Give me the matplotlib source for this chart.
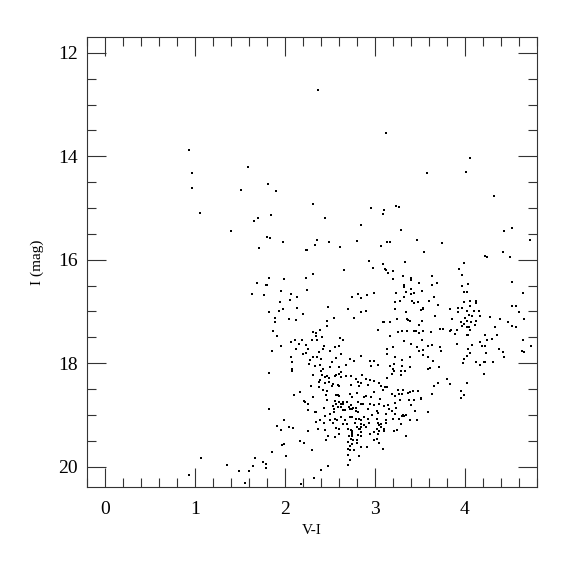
import numpy as np
import matplotlib.pyplot as plt
from matplotlib.ticker import MultipleLocator

# (V-I, I) pairs, grouped by region of the plot
upper_left = [
    (0.93, 13.88), (0.96, 14.32), (0.97, 14.61), (1.05, 15.09), (1.40, 15.44),
    (1.59, 14.21), (1.51, 14.66), (1.81, 14.53), (1.90, 14.67), (1.84, 15.13),
    (1.70, 15.20), (1.66, 15.25), (1.80, 15.56), (1.83, 15.58), (1.71, 15.77),
    (1.98, 15.66), (2.37, 12.71), (2.31, 14.92), (2.44, 15.19), (2.36, 15.62),
    (2.33, 15.72), (2.49, 15.65), (2.61, 15.76), (2.80, 15.64), (2.23, 15.82),
    (2.24, 15.82),
]
upper_right = [
    (3.12, 13.55), (4.06, 14.03), (3.58, 14.33), (4.01, 14.30), (4.33, 14.76),
    (2.96, 15.00), (3.10, 15.04), (3.09, 15.11), (3.23, 14.96), (3.27, 14.98),
    (2.85, 15.33), (3.29, 15.42), (3.47, 15.61), (3.75, 15.67), (3.13, 15.65),
    (3.17, 15.66), (3.07, 15.74), (3.55, 15.86), (4.44, 15.44), (4.53, 15.39),
    (4.73, 15.62), (4.42, 15.86),
]
mid_1 = [
    (1.82, 16.35), (1.69, 16.45), (1.79, 16.48), (1.80, 16.48), (1.63, 16.67),
    (1.77, 16.69), (1.82, 17.02),
]
mid_2 = [
    (2.31, 16.27), (2.23, 16.36), (1.99, 16.38), (2.66, 16.20), (1.95, 16.60),
    (2.07, 16.66), (2.24, 16.58), (2.13, 16.72), (2.06, 16.78), (1.94, 16.81),
    (1.98, 16.95), (2.13, 16.93), (1.93, 16.99), (2.20, 17.05), (2.48, 16.91),
    (1.89, 17.13), (1.89, 17.21), (2.04, 17.15), (2.12, 17.16), (2.47, 17.18),
    (2.54, 17.13), (2.47, 17.29), (1.87, 17.37), (1.91, 17.47), (2.31, 17.40),
    (2.35, 17.42), (2.39, 17.36), (2.35, 17.48), (2.41, 17.49), (1.86, 17.76),
    (1.95, 17.66), (2.07, 17.60), (2.11, 17.56), (2.19, 17.56), (2.15, 17.62),
    (2.23, 17.64), (2.30, 17.56), (2.36, 17.55), (2.12, 17.72), (2.26, 17.73),
    (2.23, 17.80), (2.20, 17.82), (2.43, 17.66), (2.42, 17.73), (2.31, 17.88),
    (2.38, 17.79), (2.36, 17.89), (2.40, 17.92), (2.28, 17.94), (2.27, 18.02),
    (2.33, 18.06), (2.39, 18.04), (2.42, 18.11), (2.07, 17.88), (2.08, 17.98),
    (2.08, 18.11), (2.50, 17.77), (2.56, 17.69), (2.60, 17.67), (2.61, 17.52),
    (2.64, 17.56), (2.62, 17.83), (2.57, 17.90), (2.50, 18.07), (2.52, 17.97),
    (2.72, 17.91), (2.77, 17.95), (2.68, 18.03), (2.60, 18.08), (2.75, 16.72),
    (2.81, 16.66), (2.70, 16.96), (2.77, 17.13),
]
mid_3 = [
    (2.93, 16.02), (2.98, 16.16), (3.09, 16.09), (3.11, 16.18), (3.12, 16.19),
    (3.20, 16.22), (3.15, 16.26), (3.34, 16.05), (3.64, 16.31), (3.20, 16.38),
    (3.31, 16.31), (3.40, 16.35), (3.40, 16.39), (3.49, 16.45), (3.32, 16.48),
    (3.32, 16.52), (3.40, 16.56), (3.35, 16.62), (3.24, 16.64), (3.40, 16.66),
    (3.43, 16.64), (3.52, 16.60), (3.63, 16.49), (3.69, 16.45), (2.99, 16.64),
    (2.91, 16.69), (2.84, 16.74), (3.32, 16.73), (3.66, 16.73), (3.28, 16.80),
    (3.22, 16.82), (3.41, 16.79), (3.44, 16.84), (3.48, 16.82), (3.60, 16.79),
    (3.70, 16.87), (3.53, 16.94), (3.54, 16.95), (3.51, 16.97), (3.22, 16.95),
    (2.84, 17.02), (2.90, 17.00), (3.35, 17.01), (3.67, 17.09), (3.25, 17.14),
    (3.36, 17.14), (3.37, 17.17), (3.39, 17.18), (3.52, 17.18), (3.09, 17.21),
    (3.10, 17.20), (3.17, 17.20), (3.49, 17.27), (3.72, 17.33), (3.76, 17.34),
    (3.62, 17.39), (3.03, 17.36), (3.26, 17.40), (3.30, 17.38), (3.36, 17.38),
    (3.44, 17.37), (3.46, 17.37), (3.49, 17.41), (3.53, 17.37), (3.17, 17.47),
    (3.52, 17.56), (3.32, 17.58), (3.40, 17.63), (3.59, 17.67), (3.64, 17.65),
    (3.72, 17.68), (3.20, 17.69), (3.14, 17.73), (3.47, 17.69), (3.49, 17.76),
    (3.53, 17.74), (3.73, 17.76), (3.14, 17.82), (3.54, 17.84), (3.59, 17.89),
    (2.85, 17.86), (2.95, 17.96), (2.99, 17.95), (3.22, 17.88), (3.30, 17.93),
    (3.39, 17.89), (3.65, 17.95), (2.96, 18.06), (3.03, 18.04), (3.17, 18.05),
    (3.21, 18.02), (3.30, 18.05), (3.39, 18.07), (3.20, 18.11), (3.59, 18.11),
    (3.61, 18.10), (3.71, 18.08),
]
mid_4 = [
    (4.22, 15.92), (4.25, 15.95), (4.50, 15.95), (3.99, 16.07), (3.93, 16.18),
    (3.97, 16.30), (3.97, 16.51), (4.04, 16.47), (4.52, 16.44), (3.99, 16.63),
    (4.03, 16.62), (4.65, 16.64), (3.99, 16.82), (4.06, 16.80), (4.12, 16.79),
    (4.12, 16.84), (4.06, 16.90), (3.84, 16.95), (3.92, 16.93), (3.92, 17.02),
    (3.97, 16.93), (4.03, 17.00), (4.10, 17.00), (4.16, 17.00), (4.05, 17.06),
    (4.08, 17.08), (4.17, 17.09), (4.52, 16.89), (4.57, 16.89), (4.60, 17.01),
    (4.28, 17.10), (4.39, 17.14), (4.66, 17.14), (3.86, 17.15), (4.00, 17.13),
    (4.03, 17.18), (3.96, 17.20), (3.99, 17.24), (4.07, 17.20), (4.12, 17.18),
    (4.48, 17.21), (3.97, 17.29), (4.02, 17.30), (4.05, 17.30), (4.06, 17.35),
    (3.85, 17.36), (3.84, 17.38), (3.91, 17.36), (3.89, 17.44), (4.02, 17.45),
    (4.04, 17.45), (4.11, 17.27), (4.34, 17.31), (4.52, 17.29), (4.57, 17.30),
    (4.22, 17.45), (4.36, 17.45), (4.30, 17.53), (4.25, 17.55), (4.17, 17.59),
    (4.65, 17.55), (4.74, 17.67), (3.91, 17.62), (4.08, 17.65), (4.04, 17.72),
    (4.19, 17.67), (4.23, 17.67), (4.38, 17.72), (4.43, 17.78), (4.64, 17.76),
    (4.66, 17.78), (4.06, 17.80), (4.24, 17.80), (4.44, 17.89), (4.02, 17.87),
    (3.99, 17.92), (4.13, 17.97), (4.21, 17.98), (4.23, 17.98), (4.31, 17.97),
    (4.17, 18.04), (3.98, 18.00),
]
low_1 = [
    (1.82, 18.19), (1.82, 18.89), (1.06, 19.84), (0.93, 20.16), (1.35, 19.97),
    (1.49, 20.09), (1.56, 20.32), (1.60, 20.08), (1.64, 19.99), (1.67, 19.83),
    (1.75, 19.91), (1.79, 19.95), (1.79, 20.02),
]
low_2 = [
    (2.08, 18.15), (2.31, 18.23), (2.40, 18.15), (2.41, 18.23), (2.39, 18.32),
    (2.45, 18.27), (2.47, 18.25), (2.49, 18.29), (2.56, 18.25), (2.57, 18.23),
    (2.60, 18.20), (2.62, 18.17), (2.62, 18.26), (2.68, 18.25), (2.73, 18.25),
    (2.79, 18.30), (2.81, 18.36), (2.38, 18.37), (2.29, 18.44), (2.45, 18.39),
    (2.49, 18.37), (2.53, 18.40), (2.52, 18.44), (2.59, 18.42), (2.60, 18.45),
    (2.73, 18.42), (2.82, 18.44), (2.38, 18.47), (2.42, 18.52), (2.47, 18.54),
    (2.17, 18.56), (2.10, 18.62), (2.31, 18.65), (2.46, 18.61), (2.57, 18.62),
    (2.59, 18.61), (2.60, 18.64), (2.72, 18.60), (2.75, 18.65), (2.80, 18.58),
    (2.47, 18.72), (2.21, 18.74), (2.22, 18.76), (2.25, 18.78), (2.56, 18.74),
    (2.57, 18.78), (2.60, 18.76), (2.62, 18.79), (2.64, 18.75), (2.65, 18.78),
    (2.69, 18.75), (2.73, 18.80), (2.81, 18.75), (2.53, 18.83), (2.54, 18.88),
    (2.59, 18.85), (2.62, 18.85), (2.71, 18.84), (2.76, 18.86), (2.79, 18.87),
    (2.26, 18.91), (2.33, 18.94), (2.34, 18.94), (2.43, 18.87), (2.50, 18.98),
    (2.55, 18.94), (2.64, 18.91), (2.67, 18.91), (2.72, 18.89), (2.74, 18.89),
    (2.79, 18.92), (2.81, 18.95), (2.45, 19.03), (2.39, 19.09), (2.50, 19.10),
    (2.56, 19.08), (2.58, 19.10), (2.62, 19.04), (2.67, 19.09), (2.72, 19.05),
    (2.74, 19.05), (2.79, 19.07), (2.82, 19.08), (1.99, 19.09), (2.35, 19.14),
    (2.43, 19.16), (2.53, 19.16), (2.64, 19.18), (2.69, 19.18), (2.78, 19.16),
    (1.91, 19.21), (1.95, 19.29), (2.04, 19.24), (2.09, 19.26), (2.26, 19.32),
    (2.37, 19.28), (2.44, 19.29), (2.57, 19.26), (2.60, 19.28), (2.73, 19.29),
    (2.74, 19.31), (2.75, 19.33), (2.80, 19.23), (2.82, 19.28), (2.74, 19.36),
    (2.70, 19.27), (2.60, 19.36), (2.48, 19.41), (2.56, 19.42), (2.71, 19.40),
    (2.74, 19.41), (2.81, 19.39), (2.46, 19.48), (2.73, 19.46), (2.76, 19.48),
    (2.80, 19.48), (2.17, 19.50), (2.21, 19.54), (1.99, 19.56), (1.97, 19.59),
    (2.70, 19.53), (2.74, 19.56), (2.80, 19.55), (2.72, 19.61), (2.30, 19.68),
    (2.70, 19.65), (2.72, 19.68), (1.86, 19.72), (2.77, 19.68), (2.70, 19.78),
    (2.01, 19.80), (2.82, 19.80), (2.72, 19.87), (2.70, 19.96), (2.48, 19.99),
    (2.40, 20.07), (2.32, 20.22), (2.18, 20.34),
]
low_3 = [
    (2.86, 18.23), (2.90, 18.31), (2.95, 18.32), (2.99, 18.35), (2.85, 18.39),
    (2.92, 18.42), (3.04, 18.39), (3.14, 18.28), (3.19, 18.21), (3.21, 18.16),
    (3.29, 18.16), (3.29, 18.23), (3.34, 18.16), (3.80, 18.31), (3.70, 18.39),
    (3.66, 18.44), (3.07, 18.45), (3.11, 18.47), (3.14, 18.46), (3.09, 18.52),
    (2.99, 18.56), (3.26, 18.51), (3.31, 18.51), (3.39, 18.56), (3.37, 18.58),
    (3.42, 18.54), (3.48, 18.54), (3.27, 18.60), (3.30, 18.60), (3.22, 18.63),
    (3.19, 18.59), (3.63, 18.60), (3.51, 18.67), (3.51, 18.69), (2.90, 18.64),
    (2.88, 18.65), (2.96, 18.65), (3.06, 18.70), (3.28, 18.71), (3.38, 18.72),
    (3.44, 18.72), (2.84, 18.79), (2.87, 18.79), (2.94, 18.78), (2.99, 18.80),
    (3.04, 18.78), (3.10, 18.82), (3.15, 18.80), (3.22, 18.77), (3.40, 18.80),
    (2.92, 18.88), (3.02, 18.92), (3.16, 18.89), (3.19, 18.92), (3.24, 18.86),
    (3.45, 18.93), (2.97, 19.00), (3.03, 18.96), (3.12, 18.98), (3.22, 18.98),
    (3.31, 19.00), (3.32, 19.02), (3.30, 19.03), (3.35, 19.01), (2.88, 19.05),
    (2.85, 19.09), (2.92, 19.07), (3.02, 19.07), (3.12, 19.09), (3.20, 19.08),
    (3.27, 19.08), (3.39, 19.09), (3.59, 18.94), (3.47, 19.10), (2.84, 19.18),
    (2.88, 19.20), (2.93, 19.16), (3.03, 19.16), (3.05, 19.20), (3.07, 19.18),
    (3.12, 19.16), (3.29, 19.18), (2.84, 19.24), (2.83, 19.27), (2.90, 19.24),
    (3.07, 19.24), (3.10, 19.27), (3.02, 19.27), (3.05, 19.31), (3.10, 19.32),
    (2.99, 19.34), (3.21, 19.31), (3.25, 19.29), (2.85, 19.34), (2.85, 19.41),
    (2.94, 19.36), (3.03, 19.37), (3.35, 19.40), (3.02, 19.47), (2.99, 19.49),
    (2.84, 19.62), (2.91, 19.62), (3.05, 19.55), (3.09, 19.66),
]
low_4 = [
    (4.21, 18.21), (4.02, 18.38), (3.84, 18.40), (3.96, 18.53), (3.99, 18.62),
    (3.96, 18.67),
]

groups = [upper_left, upper_right, mid_1, mid_2, mid_3, mid_4,
          low_1, low_2, low_3, low_4]
stars = np.array([p for g in groups for p in g])
v_i, i_mag = stars[:, 0], stars[:, 1]

plt.rcParams['font.family'] = ['Liberation Serif', 'DejaVu Serif']

fig = plt.figure(figsize=(5.75, 5.75), dpi=100)
ax = fig.add_axes([0.1518, 0.1525, 0.7816, 0.7826])
ax.plot(v_i, i_mag, 's', color='black', markersize=1.9, markeredgewidth=0)

ax.set_xlim(-0.2, 4.8)
ax.set_ylim(20.4, 11.7)
ax.xaxis.set_major_locator(MultipleLocator(1))
ax.xaxis.set_minor_locator(MultipleLocator(0.2))
ax.yaxis.set_major_locator(MultipleLocator(2))
ax.yaxis.set_minor_locator(MultipleLocator(0.5))
ax.tick_params(which='both', direction='in', top=True, right=True,
               width=0.8, color='#333333')
ax.tick_params(which='major', length=13.4)
ax.tick_params(which='minor', length=6.5)
ax.tick_params(axis='x', labelsize=14, pad=10)
ax.tick_params(axis='y', labelsize=14, pad=7)
for s in ax.spines.values():
    s.set_linewidth(0.8)
    s.set_color('#333333')

ax.set_xlabel('V-I', fontsize=11, labelpad=4)
ax.set_ylabel('I (mag)', fontsize=11, labelpad=10)

fig.savefig('out.png', dpi=100)
